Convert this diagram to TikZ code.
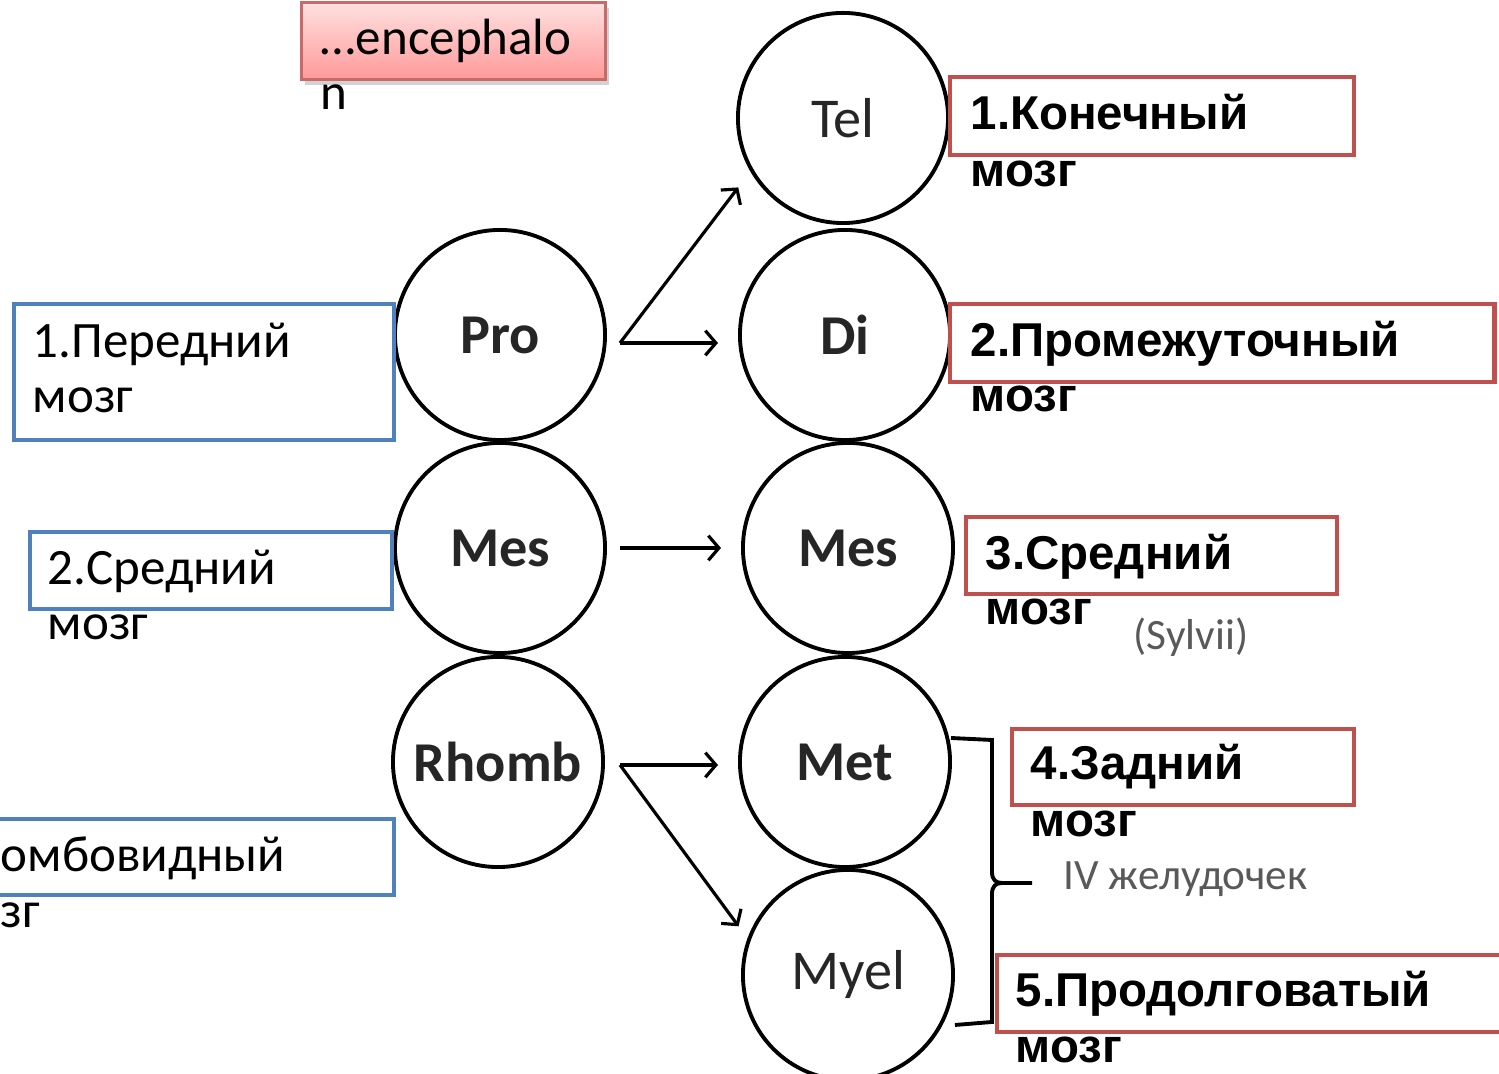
\documentclass[tikz,border=0pt]{standalone}
\usepackage{fontspec}
\setmainfont{Carlito}
\newfontfamily\boldsans{Liberation Sans}
\usetikzlibrary{arrows.meta,shadows}

\definecolor{boxblue}{RGB}{79,129,189}
\definecolor{boxred}{RGB}{192,80,77}

\begin{document}
\begin{tikzpicture}[x=0.01cm,y=-0.01cm,
        stage/.style={draw, circle, line width=1.1pt, minimum size=2.1cm, inner sep=0pt,
            font=\fontsize{16}{18}\selectfont\bfseries, text=black!85},
        arr/.style={line width=0.9pt, -{Straight Barb[length=3pt,width=7pt]}, shorten >=0.2cm},
        bluebox/.style={draw=boxblue, line width=1.2pt, inner sep=0pt, anchor=north west},
        redbox/.style={draw=boxred, line width=1.2pt, inner sep=0pt, anchor=north west},
        lefttext/.style={anchor=base west, inner sep=0pt, font=\fontsize{14.5}{17}\selectfont},
        righttext/.style={anchor=base west, inner sep=0pt, font=\fontsize{13.5}{16}\selectfont\boldsans\bfseries},
        note/.style={anchor=base west, inner sep=0pt, text=black!65, font=\fontsize{12.3}{14}\selectfont}]

                \useasboundingbox[fill=white] (0,0) rectangle (1499,1074);

                % first stage
                \node [stage] (pro) at (500,335) {Pro};
                \node [stage] (mes) at (500,548) {Mes};
                \node [stage] (rhomb) at (498,762) {Rhomb};

                % second stage
                \node [stage, font=\fontsize{16}{18}\selectfont] (tel) at (843,118) {Tel};
                \node [stage] (di) at (845,335) {Di};
                \node [stage] (mesb) at (848,548) {Mes};
                \node [stage] (met) at (845,762) {Met};
                \node [stage, font=\fontsize{16}{18}\selectfont] (myel) at (848,975) {Myel};

                \coordinate (profork) at (620,343);
                \coordinate (rhofork) at (620,765);

                \draw[arr] (profork) -- (tel.210);
                \draw[arr] (profork) -- (di.west |- profork);
                \draw[arr] ([xshift=0.13cm]mes.east) -- (mesb.west);
                \draw[arr] (rhofork) -- (met.west |- rhofork);
                \draw[arr, shorten >=0.15cm] (rhofork) -- (myel.160);

                % brace on the right
                \coordinate (brtop) at (951,738);
                \coordinate (brtip) at (1032,883);
                \coordinate (brbot) at (955,1025);
                \draw[line width=1.1pt] (brtop) -- (992,740) -- (992,872)
                        .. controls (992,880) and (996,883) .. (1002,883) -- (brtip);
                \draw[line width=1.1pt] (1002,883) .. controls (996,883) and (992,886) .. (992,894)
                        -- (992,1022) -- (brbot);
                \node [note] (ventr) at (1063,890) {IV желудочек};
                \node [note] (sylv) at (1133,650) {(Sylvii)};

                % top label
                \node [draw=boxred!85, line width=0.8pt, anchor=north west, minimum width=3.04cm,
                       minimum height=0.77cm, top color=red!12, bottom color=red!40,
                       drop shadow={opacity=0.35, shadow xshift=1pt, shadow yshift=-1.5pt}] (enc) at (300,1) {};
                \node [lefttext] (enctxt) at (320,55) {…encephalo};
                \node [lefttext] (enctxtb) at (320,110) {n};

                % left boxes
                \node [bluebox, minimum width=3.80cm, minimum height=1.36cm] (probox) at (12,302) {};
                \node [lefttext] (protxt) at (32,358) {1.Передний};
                \node [lefttext] (protxtb) at (32,413) {мозг};

                \node [bluebox, minimum width=3.62cm, minimum height=0.77cm] (mesbox) at (28,530) {};
                \node [lefttext] (mestxt) at (47,585) {2.Средний};
                \node [lefttext] (mestxtb) at (47,640) {мозг};

                \node [bluebox, minimum width=4.67cm, minimum height=0.76cm] (rhobox) at (-75,817) {};
                \node [lefttext] (rhotxt) at (0,872) {омбовидный};
                \node [lefttext] (rhotxtb) at (0,928) {зг};

                % right boxes
                \node [redbox, minimum width=4.04cm, minimum height=0.78cm] (telbox) at (948,75) {};
                \node [righttext] (teltxt) at (970,130) {1.Конечный};
                \node [righttext] (teltxtb) at (970,187) {мозг};

                \node [redbox, minimum width=5.44cm, minimum height=0.78cm] (dibox) at (948,302) {};
                \node [righttext] (ditxt) at (970,357) {2.Промежуточный};
                \node [righttext] (ditxtb) at (970,412) {мозг};

                \node [redbox, minimum width=3.71cm, minimum height=0.77cm] (mesbbox) at (964,515) {};
                \node [righttext] (mesbtxt) at (985,570) {3.Средний};
                \node [righttext] (mesbtxtb) at (985,625) {мозг};

                \node [redbox, minimum width=3.42cm, minimum height=0.76cm] (metbox) at (1010,727) {};
                \node [righttext] (mettxt) at (1030,780) {4.Задний};
                \node [righttext] (mettxtb) at (1030,837) {мозг};

                \node [redbox, minimum width=5.20cm, minimum height=0.77cm] (myelbox) at (995,953) {};
                \node [righttext] (myeltxt) at (1015,1007) {5.Продолговатый};
                \node [righttext] (myeltxtb) at (1015,1063) {мозг};

\end{tikzpicture}
\end{document}
